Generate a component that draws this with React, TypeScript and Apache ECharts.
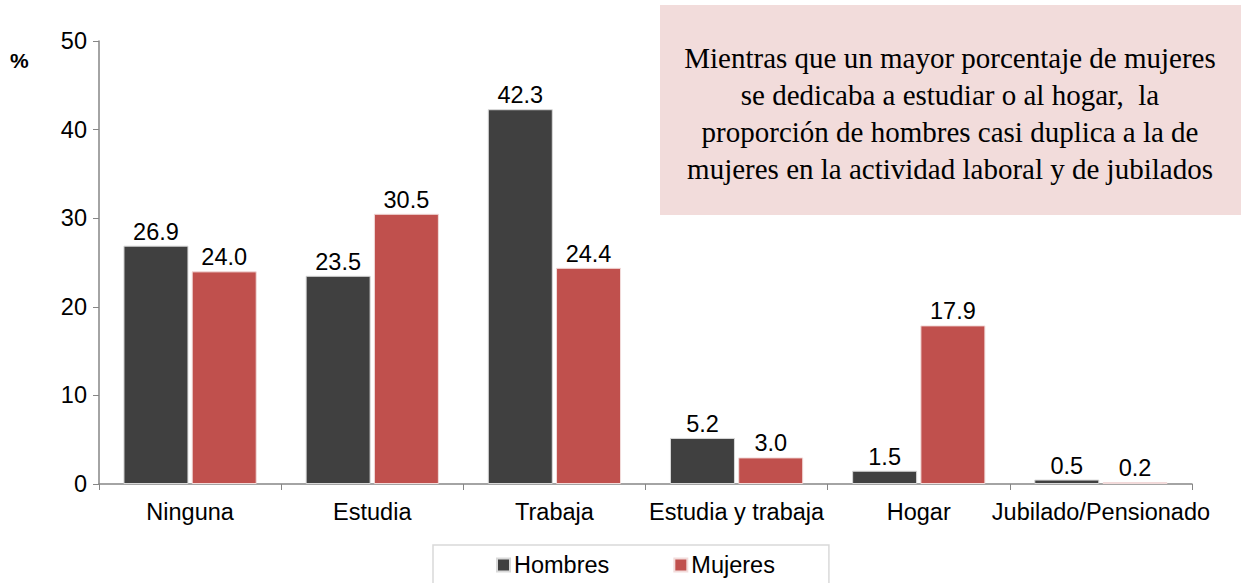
import React, { useEffect, useRef } from "react";
import * as echarts from "echarts";

const categories = ["Ninguna", "Estudia", "Trabaja", "Estudia y trabaja", "Hogar", "Jubilado/Pensionado"];
const hombres = [26.9, 23.5, 42.3, 5.2, 1.5, 0.5];
const mujeres = [24.0, 30.5, 24.4, 3.0, 17.9, 0.2];
const yTicks = { min: 0, max: 50, interval: 10 };
const noteLines = [
  "Mientras que un mayor porcentaje de mujeres",
  "se dedicaba a estudiar o al hogar,  la",
  "proporción de hombres casi duplica a la de",
  "mujeres en la actividad laboral y de jubilados",
];

export default function App() {
  const ref = useRef<HTMLDivElement>(null);
  useEffect(() => {
    const chart = echarts.init(ref.current!, null, { renderer: "svg" });
    const font = "Liberation Sans, Arial, sans-serif";
    const fs = 23.5;
    const label = {
      show: true,
      position: "top",
      color: "#000",
      fontSize: fs,
      fontFamily: font,
      distance: 2,
      formatter: (p: any) => p.value.toFixed(1),
    };
    chart.setOption({
      animation: false,
      grid: { left: 99, right: 49, top: 41, bottom: 99, containLabel: false },
      legend: {
        bottom: -4,
        left: 433,
        itemWidth: 13,
        itemHeight: 13,
        itemGap: 64,
        padding: [8, 54, 10, 63],
        borderColor: "#d9d9d9",
        borderWidth: 1.5,
        icon: "rect",
        textStyle: { fontSize: fs, fontFamily: font, color: "#000", padding: [0, 0, 0, -1] },
        data: ["Hombres", "Mujeres"],
      },
      xAxis: {
        type: "category",
        data: categories,
        axisLine: { lineStyle: { color: "#868686", width: 1.5 } },
        axisTick: { show: true, length: 6, lineStyle: { color: "#868686" } },
        axisLabel: { fontSize: fs, fontFamily: font, color: "#000", margin: 16, interval: 0 },
      },
      yAxis: {
        type: "value",
        min: yTicks.min,
        max: yTicks.max,
        interval: yTicks.interval,
        axisLine: { show: true, lineStyle: { color: "#868686", width: 1.5 } },
        axisTick: { show: true, length: 6, lineStyle: { color: "#868686" } },
        splitLine: { show: false },
        axisLabel: { fontSize: fs, fontFamily: font, color: "#000", margin: 12 },
      },
      series: [
        {
          name: "Hombres",
          type: "bar",
          data: hombres,
          barWidth: 65,
          barGap: "5%",
          itemStyle: { color: "#404040", borderColor: "#d9d9d9", borderWidth: 1 },
          label,
        },
        {
          name: "Mujeres",
          type: "bar",
          data: mujeres,
          barWidth: 65,
          itemStyle: { color: "#c0504d", borderColor: "#f2dcdb", borderWidth: 1 },
          label,
        },
      ],
      graphic: [
        {
          type: "text",
          left: 10,
          top: 50,
          style: { text: "%", fontSize: 21, fontWeight: "bold", fontFamily: font, fill: "#000" },
        },
        {
          type: "rect",
          shape: { x: 660, y: 5, width: 581, height: 210 },
          style: { fill: "#f2dcdb" },
          z: 10,
        },
        {
          type: "text",
          x: 950,
          y: 113,
          z: 11,
          style: {
            text: noteLines.join("\n"),
            fontSize: 29,
            lineHeight: 37,
            fontFamily: "Liberation Serif, DejaVu Serif, serif",
            fill: "#000",
            align: "center",
            verticalAlign: "middle",
          },
        },
      ],
    });
    return () => chart.dispose();
  }, []);
  return <div ref={ref} style={{ width: 1241, height: 583, position: "absolute", left: 0, top: 0 }} />;
}
